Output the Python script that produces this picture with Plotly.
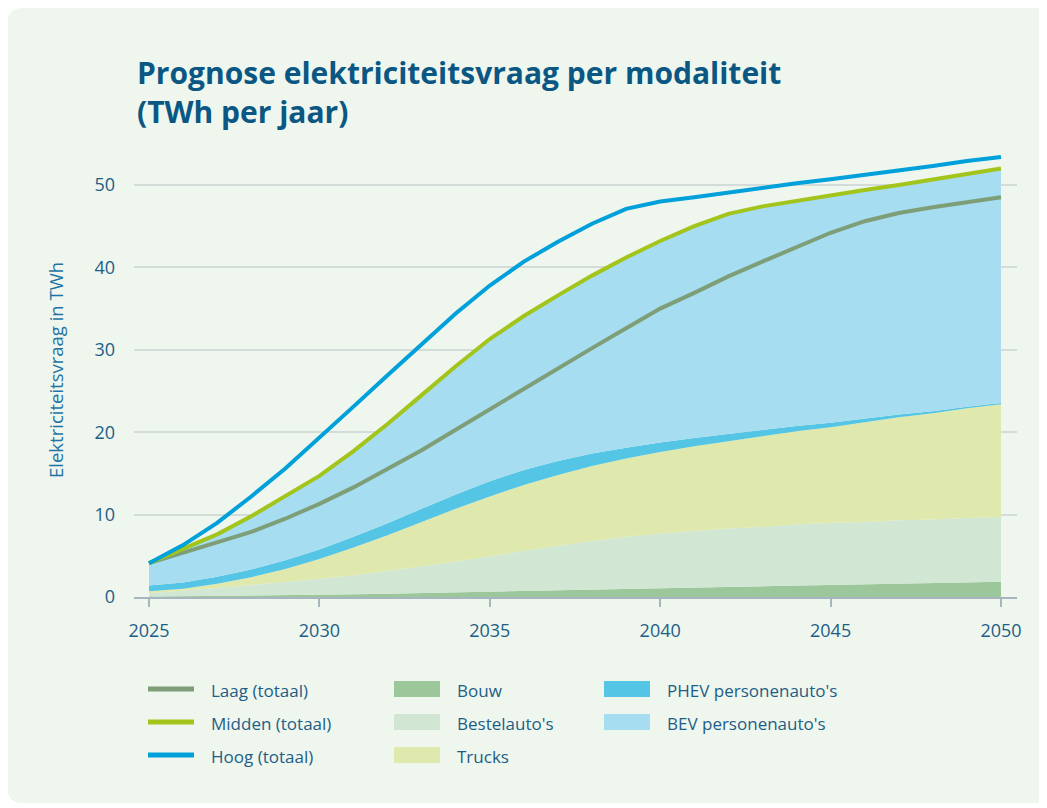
import plotly.graph_objects as go

# jaren
years = list(range(2025, 2051))

# totalen per scenario (TWh)
laag = [4.1, 5.4, 6.6, 7.9, 9.5, 11.3, 13.3, 15.5, 17.8, 20.3, 22.8, 25.3, 27.8,
        30.2, 32.6, 35.0, 36.9, 38.9, 40.7, 42.5, 44.2, 45.6, 46.6, 47.3, 47.9, 48.5]
midden = [4.1, 5.9, 7.6, 9.8, 12.2, 14.7, 17.7, 21.0, 24.5, 28.0, 31.3, 34.1, 36.6,
          39.0, 41.2, 43.2, 45.0, 46.5, 47.4, 48.1, 48.7, 49.4, 50.0, 50.7, 51.3, 52.0]
hoog = [4.1, 6.3, 9.0, 12.2, 15.6, 19.3, 23.1, 26.9, 30.7, 34.4, 37.8, 40.7, 43.1,
        45.3, 47.1, 48.0, 48.5, 49.1, 49.6, 50.2, 50.7, 51.2, 51.8, 52.3, 52.9, 53.4]

# opbouw per modaliteit (midden scenario, TWh)
bouw = [0.05, 0.08, 0.12, 0.16, 0.2, 0.25, 0.32, 0.4, 0.48, 0.56, 0.65, 0.73, 0.82,
        0.92, 1.02, 1.12, 1.2, 1.28, 1.36, 1.45, 1.53, 1.6, 1.67, 1.74, 1.8, 1.86]
bestelautos = [0.4, 0.67, 0.98, 1.29, 1.65, 1.95, 2.28, 2.8, 3.22, 3.74, 4.25, 4.87, 5.38,
               5.88, 6.28, 6.58, 6.8, 7.02, 7.14, 7.35, 7.47, 7.5, 7.63, 7.66, 7.8, 7.84]
trucks = [0.25, 0.25, 0.5, 0.95, 1.55, 2.4, 3.4, 4.3, 5.4, 6.4, 7.3, 8.0, 8.6,
          9.1, 9.5, 9.9, 10.3, 10.6, 11.0, 11.3, 11.6, 12.1, 12.5, 12.9, 13.3, 13.7]
phev = [0.7, 0.75, 0.85, 0.95, 1.05, 1.15, 1.3, 1.45, 1.6, 1.75, 1.85, 1.8, 1.7,
        1.5, 1.3, 1.15, 1.0, 0.9, 0.8, 0.65, 0.55, 0.45, 0.35, 0.25, 0.2, 0.15]
bev = [2.7, 4.15, 5.15, 6.45, 7.75, 8.95, 10.4, 12.05, 13.8, 15.55, 17.25, 18.7, 20.1,
       21.6, 23.1, 24.45, 25.7, 26.7, 27.1, 27.35, 27.55, 27.75, 27.85, 28.15, 28.2, 28.45]

area_names = ["Bouw", "Bestelauto's", "Trucks", "PHEV personenauto's", "BEV personenauto's"]
area_values = [bouw, bestelautos, trucks, phev, bev]
area_colors = ["#9BC79B", "#D2E7D3", "#DFE9AE", "#55C5E5", "#A6DDF1"]

line_names = ["Laag (totaal)", "Midden (totaal)", "Hoog (totaal)"]
line_values = [laag, midden, hoog]
line_colors = ["#7E9E78", "#A3C51B", "#00A0DB"]

TXT = "#1D5E87"
FONT = "Open Sans"

# de pagina heeft 8px body-marge; alle pixelposities hieronder zijn in schermpixels
OFF = 8
L, R, T, B = 134 - OFF, 1017 - OFF, 152 - OFF, 597 - OFF
W, H = R - L, B - T


def px(x):
    return (x - OFF - L) / W


def py(y):
    return (B - (y - OFF)) / H


fig = go.Figure()

for name, vals, col in zip(area_names, area_values, area_colors):
    fig.add_trace(go.Scatter(x=years, y=vals, name=name, stackgroup="one",
                             mode="lines", line=dict(width=0, color=col),
                             fillcolor=col, showlegend=False, hoverinfo="x+y+name"))

for name, vals, col in zip(line_names, line_values, line_colors):
    fig.add_trace(go.Scatter(x=years, y=vals, name=name, mode="lines",
                             line=dict(width=4, color=col), showlegend=False))

shapes = []
# achtergrondpaneel met afgeronde hoeken
x0, x1, y0, y1 = px(7), px(1070), py(8), py(803)
rx, ry = 16 / W, 16 / H
shapes.append(dict(
    type="path", xref="paper", yref="paper", layer="below",
    path=(f"M{x0},{y1 + ry} L{x0},{y0 - ry} Q{x0},{y0} {x0 + rx},{y0} "
          f"L{x1},{y0} L{x1},{y1} L{x0 + rx},{y1} Q{x0},{y1} {x0},{y1 + ry} Z"),
    fillcolor="#EFF6EE", line=dict(width=0)))

annotations = []
rows = [689, 722, 755]

# legenda kolom 1: lijnen
for name, col, ry_ in zip(line_names, line_colors, rows):
    shapes.append(dict(type="line", xref="paper", yref="paper",
                       x0=px(148), x1=px(194), y0=py(ry_), y1=py(ry_),
                       line=dict(color=col, width=5)))
    annotations.append(dict(text=name, x=px(209), y=py(ry_ + 1), xref="paper", yref="paper",
                            xanchor="left", yanchor="middle", showarrow=False,
                            font=dict(size=17, color=TXT, family=FONT)))

# legenda kolom 2 en 3: vlakken
swatch_pos = [(394, rows[0]), (394, rows[1]), (394, rows[2]), (604, rows[0]), (604, rows[1])]
for name, col, (sx, sy) in zip(area_names, area_colors, swatch_pos):
    shapes.append(dict(type="rect", xref="paper", yref="paper",
                       x0=px(sx), x1=px(sx + 46), y0=py(sy - 8), y1=py(sy + 8),
                       fillcolor=col, line=dict(width=0)))
    annotations.append(dict(text=name, x=px(sx + 61), y=py(sy + 1), xref="paper", yref="paper",
                            xanchor="left", yanchor="middle", showarrow=False,
                            font=dict(size=17, color=TXT, family=FONT)))

# y-as titel
annotations.append(dict(text="Elektriciteitsvraag in TWh", x=px(55), y=py(370),
                        xref="paper", yref="paper", textangle=-90, showarrow=False,
                        xanchor="center", yanchor="middle",
                        font=dict(size=18.5, color="#1F74A6", family=FONT)))

fig.update_layout(
    width=1047, height=808,
    margin=dict(l=L, r=1047 - R, t=T, b=808 - B),
    paper_bgcolor="white",
    plot_bgcolor="rgba(0,0,0,0)",
    showlegend=False,
    title=dict(text="Prognose elektriciteitsvraag per modaliteit<br>(TWh per jaar)",
               x=(137 - OFF) / 1047, xanchor="left", y=1 - (84 - OFF) / 808, yanchor="top",
               font=dict(size=30, color="#0B5783", family=FONT, weight="bold")),
    shapes=shapes,
    annotations=annotations,
    font=dict(family=FONT, color=TXT),
)

fig.update_xaxes(range=[2024.56, 2050.47], tickvals=[2025, 2030, 2035, 2040, 2045, 2050],
                 showgrid=False, zeroline=False, showline=True, linecolor="#A6B6BF",
                 linewidth=2, ticks="outside", ticklen=8, tickwidth=2, tickcolor="#A6B6BF",
                 ticklabelstandoff=8, tickfont=dict(size=18, color=TXT, family=FONT))
fig.update_yaxes(range=[0, 54], tickvals=[0, 10, 20, 30, 40, 50], showgrid=True,
                 gridcolor="#D3DCD9", gridwidth=1.5, zeroline=False, showline=False,
                 ticks="", ticklabelstandoff=18,
                 tickfont=dict(size=18, color=TXT, family=FONT))

fig.write_html("out.html")
